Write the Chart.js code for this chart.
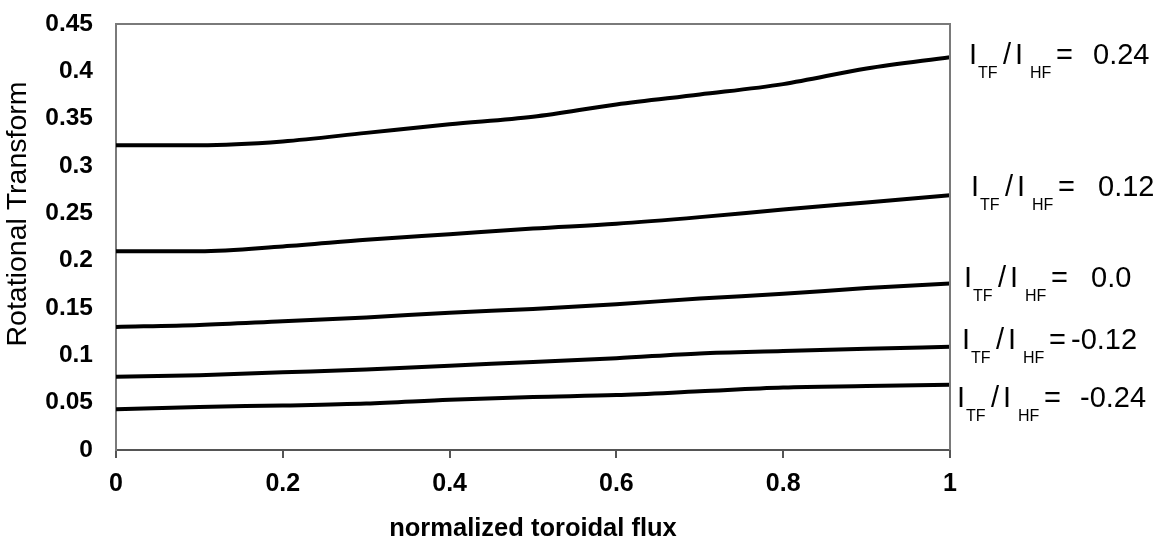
<!DOCTYPE html>
<html>
<head>
<meta charset="utf-8">
<script src="https://cdn.jsdelivr.net/npm/chart.js@4.4.1/dist/chart.umd.min.js"></script>
<style>
  html, body { margin: 0; padding: 0; background: #fff; }
  #wrap { width: 1162px; height: 542px; position: relative; }
</style>
</head>
<body>
<div id="wrap"><canvas id="iotaChart"></canvas></div>
<script>
// normalized toroidal flux (x positions of the read points)
var flux = [0, 0.1, 0.2, 0.3, 0.4, 0.5, 0.6, 0.7, 0.8, 0.9, 1];

// rotational transform, one array per coil current ratio I_TF / I_HF
var iotaP024 = [0.322, 0.322, 0.326, 0.335, 0.344, 0.352, 0.365, 0.3755, 0.3865, 0.403, 0.415];
var iotaP012 = [0.210, 0.210, 0.215, 0.222, 0.228, 0.234, 0.239, 0.246, 0.254, 0.2615, 0.269];
var iotaZero = [0.130, 0.132, 0.136, 0.140, 0.145, 0.149, 0.154, 0.160, 0.165, 0.171, 0.176];
var iotaM012 = [0.0775, 0.079, 0.082, 0.085, 0.089, 0.093, 0.097, 0.102, 0.1045, 0.107, 0.109];
var iotaM024 = [0.043, 0.0455, 0.047, 0.049, 0.053, 0.056, 0.058, 0.062, 0.066, 0.0675, 0.069];

var ratios = ['0.24', '0.12', '0.0', '-0.12', '-0.24'];

// tick labels
var xTicks = [0, 0.2, 0.4, 0.6, 0.8, 1];
var yTicks = [0, 0.05, 0.1, 0.15, 0.2, 0.25, 0.3, 0.35, 0.4, 0.45];

var FONT = '"Liberation Sans", Arial, sans-serif';

function toPoints(ys) {
	return ys.map(function(y, i) { return { x: flux[i], y: y }; });
}

var allSeries = [iotaP024, iotaP012, iotaZero, iotaM012, iotaM024];
var datasets = allSeries.map(function(s, i) {
	return {
		label: 'I_TF / I_HF = ' + ratios[i],
		data: toPoints(s),
		borderColor: '#000',
		borderWidth: 4,
		pointRadius: 0,
		cubicInterpolationMode: 'monotone',
		fill: false
	};
});

// frame on top/right, y title and the ratio labels beside the curves
var decorations = {
	id: 'decorations',
	afterDraw: function(chart) {
		var ctx = chart.ctx;
		var a = chart.chartArea;
		ctx.save();
		ctx.strokeStyle = '#7a7a7a';
		ctx.lineWidth = 2;
		ctx.beginPath();
		ctx.moveTo(a.left, a.top);
		ctx.lineTo(a.right, a.top);
		ctx.lineTo(a.right, a.bottom);
		ctx.stroke();

		// y axis title
		ctx.fillStyle = '#000';
		ctx.translate(18, 214);
		ctx.rotate(-Math.PI / 2);
		ctx.font = '28.5px ' + FONT;
		ctx.textAlign = 'center';
		ctx.textBaseline = 'middle';
		ctx.fillText('Rotational Transform', 0, 0);
		ctx.restore();

		// ratio labels: [x origin, baseline, value offset]
		var pos = [[969, 64, 124], [971, 196, 127], [964, 287, 127], [962, 349, 109], [957, 407, 123]];
		ctx.save();
		ctx.fillStyle = '#000';
		ctx.textAlign = 'left';
		ctx.textBaseline = 'alphabetic';
		var big = '29px ' + FONT, small = '16px ' + FONT;
		pos.forEach(function(p, i) {
			var x = p[0], y = p[1];
			ctx.font = big;
			ctx.fillText('I', x, y);
			ctx.font = small;
			ctx.fillText('TF', x + 9, y + 14);
			ctx.font = big;
			ctx.fillText('/', x + 34, y);
			ctx.fillText('I', x + 46, y);
			ctx.font = small;
			ctx.fillText('HF', x + 61, y + 14);
			ctx.font = big;
			ctx.fillText('=', x + 87, y);
			ctx.fillText(ratios[i], x + p[2], y);
		});
		ctx.restore();
	}
};

var chart = new Chart(document.getElementById('iotaChart'), {
	type: 'line',
	data: { datasets: datasets },
	options: {
		responsive: true,
		maintainAspectRatio: false,
		animation: false,
		layout: { padding: { top: 24, right: 212, left: 0, bottom: 0 } },
		plugins: {
			legend: { display: false },
			tooltip: { enabled: false }
		},
		scales: {
			x: {
				type: 'linear',
				min: 0,
				max: 1,
				afterBuildTicks: function(scale) {
					scale.ticks = xTicks.map(function(v) { return { value: v }; });
				},
				afterFit: function(scale) { scale.height = 92; },
				grid: {
					drawOnChartArea: false,
					drawTicks: true,
					tickLength: 8,
					color: '#555',
					lineWidth: 2
				},
				border: { display: true, color: '#555', width: 2 },
				ticks: {
					color: '#000',
					padding: 11,
					maxRotation: 0,
					font: { family: FONT, size: 25, weight: 'bold' },
					callback: function(v) { return String(+v.toFixed(1)); }
				},
				title: {
					display: true,
					text: 'normalized toroidal flux',
					color: '#000',
					padding: { top: 0, bottom: 0 },
					font: { family: FONT, size: 25.5, weight: 'bold', lineHeight: 1 }
				}
			},
			y: {
				min: 0,
				max: 0.45,
				afterBuildTicks: function(scale) {
					scale.ticks = yTicks.map(function(v) { return { value: v }; });
				},
				afterFit: function(scale) { scale.width = 116; },
				// no visible tick marks; the tick length only sets the label gap
				grid: { display: false, drawTicks: true, tickLength: 20 },
				border: { display: true, color: '#7a7a7a', width: 2 },
				ticks: {
					color: '#000',
					padding: 3,
					font: { family: FONT, size: 24.5, weight: 'bold' },
					callback: function(v) { return String(+v.toFixed(2)); }
				}
			}
		}
	},
	plugins: [decorations]
});
</script>
</body>
</html>
